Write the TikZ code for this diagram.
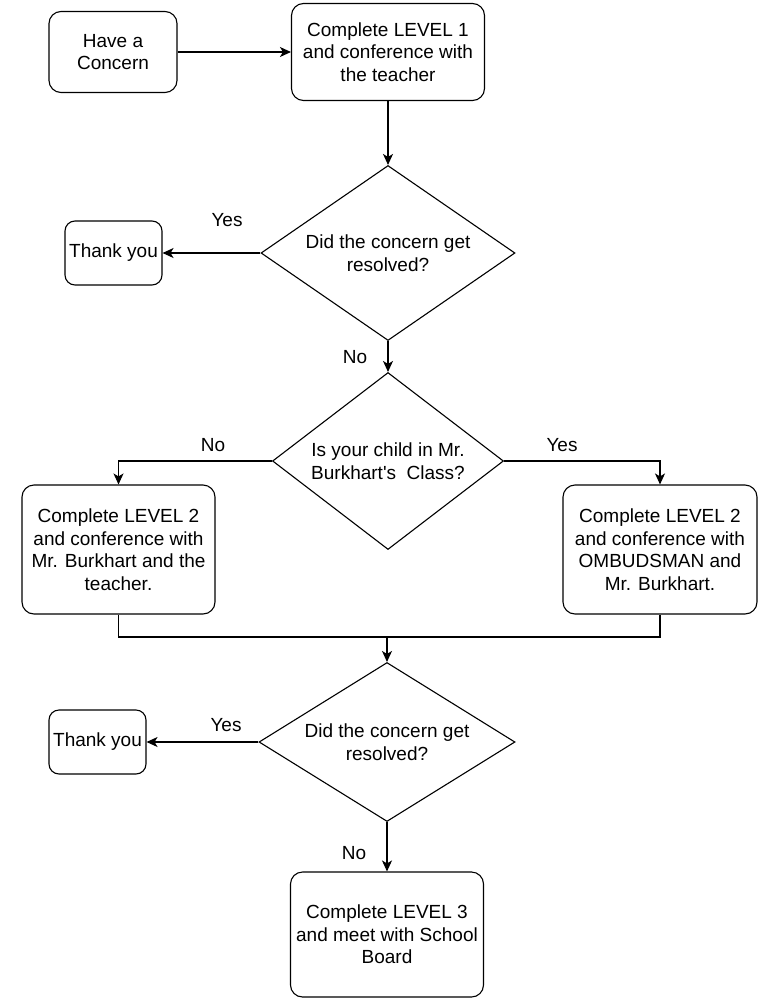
\documentclass[tikz,border=0pt]{standalone}
\usepackage{fontspec}
\setmainfont{Liberation Sans}
\usepackage{tikz}
\usetikzlibrary{arrows.meta,shapes.geometric,positioning,calc}

\begin{document}
\begin{tikzpicture}[x=1pt,y=-1pt,% pixel coordinates, y grows downwards
			every node/.style={
				align=center,  		% use this so that the "\\" for line break works
				font=\fontsize{19}{22.5}\selectfont
			},
			stepbox/.style={rectangle,rounded corners=12pt,draw=black,line width=1.1pt,inner sep=0pt},
			decision/.style={diamond,draw=black,line width=1.1pt,inner sep=0pt},
			answer/.style={inner sep=0pt},
			flow/.style={-{Stealth[length=11pt,width=10pt,inset=3pt]},line width=1.1pt},
			every edge/.style={draw,flow}
		]
		\useasboundingbox (0,0) rectangle (758,998);
		% top row
		\node[stepbox,minimum width=128pt,minimum height=81pt](have) at (113,52){Have a\\Concern};
		\node[stepbox,minimum width=193pt,minimum height=97pt](lev1) at (388,52){Complete LEVEL 1\\and conference with\\the teacher};
		% first question
		\node[decision,aspect=1.45,minimum width=254pt,minimum height=175pt](ask1) at (388,253){Did the concern get\\resolved?};
		\node[stepbox,rounded corners=10pt,minimum width=97pt,minimum height=64pt](thx1) at (113.5,253){Thank you};
		\node[answer](yes1) at (227,220){Yes};
		\node[answer](no1) at (355,357){No};
		% second question
		\node[decision,aspect=1.3,minimum width=231pt,minimum height=177pt](ask2) at (388,461){Is your child in Mr.\\Burkhart\textquotesingle s\ \ Class?};
		\node[answer](no2) at (213,445){No};
		\node[answer](yes2) at (562,445){Yes};
		\node[stepbox,minimum width=193pt,minimum height=129pt](lev2a) at (118.5,549.5){Complete LEVEL 2\\and conference with\\Mr. Burkhart and the\\teacher.};
		\node[stepbox,minimum width=194pt,minimum height=129pt](lev2b) at (660,549.5){Complete LEVEL 2\\and conference with\\OMBUDSMAN and\\Mr. Burkhart.};
		\coordinate (join) at (387,637);
		% third question
		\node[decision,aspect=1.61,minimum width=256pt,minimum height=159pt](ask3) at (387,742){Did the concern get\\resolved?};
		\node[stepbox,rounded corners=10pt,minimum width=97pt,minimum height=64pt](thx2) at (97.5,742){Thank you};
		\node[answer](yes3) at (226,725){Yes};
		\node[answer](no3) at (354,853){No};
		\node[stepbox,minimum width=193pt,minimum height=125pt](lev3) at (387,934.5){Complete LEVEL 3\\and meet with School\\Board};

		\path
		(have)edge []	node [] {} (lev1)
		(lev1)edge []	node [] {} (ask1)
		(ask1)edge []	node [] {} (thx1)
		(ask1)edge []	node [] {} (ask2)
		(join)edge []	node [] {} (ask3)
		(ask3)edge []	node [] {} (thx2)
		(ask3.south)edge []	node [] {} (lev3.north)
		;
		\draw[flow] (ask2.west) -| (lev2a.north);
		\draw[flow] (ask2.east) -| (lev2b.north);
		\draw[line width=1.1pt] (lev2a.south) |- (join) -| (lev2b.south);
	\end{tikzpicture}
\end{document}
